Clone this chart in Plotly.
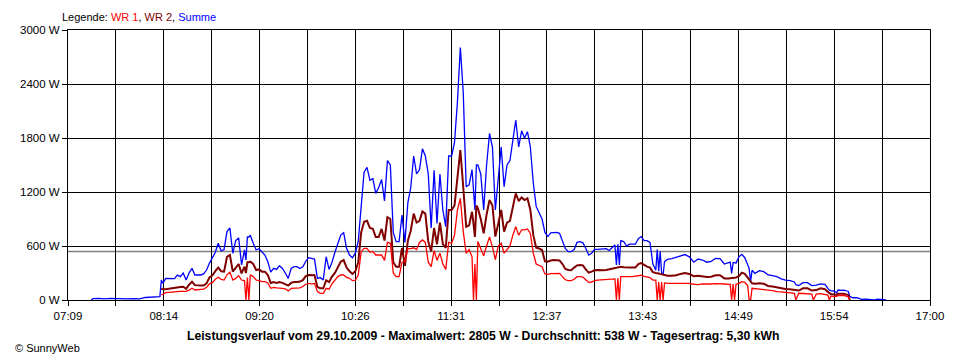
import plotly.graph_objects as go
import pandas as pd

DATE = "2009-10-29"

# Sample times (HH:MM)
TIMES = [
    "07:25", "07:26", "07:30", "07:34", "07:38", "07:42", "07:46", "07:50", "07:54", "07:58",
    "08:02", "08:06", "08:09", "08:12",
    "08:13", "08:14", "08:16", "08:18", "08:20", "08:22", "08:24", "08:26", "08:28", "08:30",
    "08:32", "08:34", "08:36", "08:38", "08:40", "08:42", "08:44", "08:46", "08:48", "08:50",
    "08:52", "08:54", "08:56", "08:58", "09:00", "09:02", "09:04", "09:06", "09:08", "09:10",
    "09:11", "09:12", "09:13", "09:14", "09:16", "09:18", "09:20", "09:22", "09:24", "09:26",
    "09:28", "09:30", "09:32", "09:34", "09:36", "09:38", "09:40", "09:42", "09:44", "09:46",
    "09:48", "09:50", "09:52", "09:54", "09:56", "09:58", "10:00", "10:02", "10:04", "10:06",
    "10:08", "10:10", "10:12", "10:14", "10:16", "10:18", "10:20", "10:22", "10:24", "10:26",
    "10:28", "10:30", "10:32", "10:34", "10:36", "10:38", "10:40", "10:42", "10:44", "10:46",
    "10:48", "10:50", "10:52", "10:54", "10:56", "10:58", "11:00", "11:02", "11:04", "11:06",
    "11:08", "11:10", "11:12", "11:14", "11:16", "11:18", "11:20", "11:22", "11:24", "11:26",
    "11:28", "11:30", "11:32", "11:34", "11:36", "11:38", "11:40", "11:42", "11:44", "11:46",
    "11:47", "11:48", "11:49", "11:50", "11:52", "11:54", "11:56", "11:58", "12:00", "12:02",
    "12:04", "12:06", "12:08", "12:10", "12:12", "12:14", "12:16", "12:18", "12:20", "12:22",
    "12:24", "12:26", "12:28", "12:30", "12:32", "12:34", "12:36", "12:38", "12:40", "12:42",
    "12:44", "12:46", "12:48", "12:50", "12:52", "12:54", "12:56", "12:58", "13:00", "13:02",
    "13:04", "13:06", "13:08", "13:10", "13:12", "13:14", "13:16", "13:18", "13:20", "13:22",
    "13:24", "13:25", "13:26", "13:27", "13:28", "13:30", "13:32", "13:34", "13:36", "13:38",
    "13:40", "13:42", "13:44", "13:46", "13:48", "13:50", "13:52", "13:53", "13:54", "13:55",
    "13:56", "13:57", "13:58", "14:00", "14:03", "14:06", "14:09", "14:12", "14:15", "14:18",
    "14:21", "14:24", "14:27", "14:30", "14:33", "14:36", "14:39", "14:42", "14:43", "14:44",
    "14:45", "14:46", "14:47", "14:49", "14:50", "14:51", "14:53", "14:55", "14:56", "14:57",
    "14:58", "15:00", "15:03", "15:06", "15:09", "15:12", "15:15", "15:18", "15:21", "15:24",
    "15:27", "15:28", "15:30", "15:33", "15:36", "15:39", "15:40", "15:42", "15:45", "15:48",
    "15:50", "15:51", "15:52", "15:54", "15:56", "15:57", "15:59", "16:01", "16:03", "16:04",
    "16:05", "16:07", "16:10", "16:13", "16:16", "16:19", "16:22", "16:24", "16:27", "16:30",
]

# Summe (blue), W
SUMME = [
    0, 15, 19, 12, 18, 15, 10, 12, 14, 12,
    28, 30, 37, 37,
    222, 185, 241, 241, 237, 237, 278, 260, 300, 222,
    300, 352, 278, 278, 278, 290, 333, 410, 463, 530,
    630, 545, 560, 760, 800, 519, 660, 690, 389, 556,
    444, 700, 700, 720, 630, 556, 570, 537, 500, 426,
    310, 352, 340, 380, 350, 300, 240, 350, 370, 370,
    350, 370, 430, 470, 463, 455, 241, 250, 222, 481,
    340, 420, 530, 620, 722, 748, 574, 500, 470, 520,
    650, 1037, 1420, 1474, 1330, 1350, 1185, 1250, 1340, 1100,
    1550, 1500, 750, 648, 648, 944, 640, 1080, 1250, 1600,
    1400, 1450, 1680, 1600, 1400, 800, 1440, 850, 1400, 1000,
    815, 1600, 1600, 1750, 2200, 2805, 2300, 1259, 1280, 1450,
    1150, 1000, 1500, 1500, 1400, 1000, 1500, 1850, 1700, 1000,
    1350, 1700, 1259, 1500, 1550, 1780, 2000, 1700, 1880, 1800,
    1870, 1700, 1300, 1040, 963, 900, 750, 705, 745, 752,
    752, 741, 650, 570, 537, 537, 560, 640, 648, 635,
    575, 500, 520, 563, 563, 565, 560, 570, 550, 585,
    611, 389, 620, 389, 659, 650, 600, 620, 620, 620,
    680, 705, 660, 660, 640, 400, 330, 560, 320, 540,
    300, 278, 426, 452, 460, 474, 490, 505, 480, 420,
    455, 444, 420, 430, 463, 460, 400, 410, 420, 296,
    415, 415, 410, 480, 495, 507, 470, 380, 352, 204,
    330, 296, 326, 315, 278, 270, 260, 235, 220, 215,
    200, 170, 160, 193, 193, 160, 160, 165, 180, 175,
    130, 110, 104, 100, 80, 111, 108, 110, 100, 95,
    40, 25, 25, 8, 10, 5, 0, 8, 8, 0,
]

# WR 2 (dark red), W
WR2 = [
    None, None, None, None, None, None, None, None, None, None,
    None, None, None, None,
    130, 119, 119, 125, 135, 141, 141, 145, 148, 125,
    170, 204, 165, 160, 160, 160, 185, 250, 275, 320,
    360, 320, 315, 480, 500, 315, 360, 400, 296, 370,
    300, 420, 420, 426, 400, 333, 340, 315, 315, 278,
    190, 200, 190, 200, 190, 175, 160, 190, 200, 200,
    205, 220, 265, 278, 278, 275, 145, 130, 130, 220,
    200, 260, 300, 370, 426, 444, 360, 320, 290, 320,
    420, 750, 870, 880, 800, 790, 700, 700, 790, 660,
    920, 900, 420, 370, 370, 580, 380, 660, 770, 960,
    860, 880, 985, 960, 650, 540, 800, 620, 860, 620,
    580, 1000, 1000, 1050, 1350, 1667, 1250, 815, 830, 980,
    850, 700, 1050, 1020, 900, 740, 950, 1111, 1050, 704,
    850, 1000, 760, 860, 880, 1050, 1185, 1100, 1140, 1110,
    1130, 1000, 720, 580, 572, 555, 430, 425, 440, 444,
    444, 440, 400, 345, 333, 330, 360, 385, 389, 385,
    340, 304, 315, 330, 333, 330, 330, 333, 340, 348,
    350, 360, 360, 365, 370, 365, 360, 360, 360, 360,
    400, 410, 390, 370, 360, 310, 300, 300, 295, 290,
    285, 280, 280, 270, 270, 275, 290, 300, 290, 265,
    270, 259, 255, 259, 275, 275, 240, 240, 245, 245,
    245, 245, 250, 265, 290, 304, 290, 250, 222, 200,
    185, 180, 185, 180, 156, 150, 140, 130, 122, 120,
    115, 110, 105, 130, 130, 105, 105, 110, 130, 120,
    90, 80, 67, 60, 55, 70, 70, 70, 60, 55,
    0, None, None, None, None, None, None, None, None, None,
]

# WR 1 (red), W
WR1 = [
    None, None, None, None, None, None, None, None, None, None,
    None, None, None, None,
    56, 65, 81, 85, 90, 93, 93, 96, 96, 96,
    110, 130, 111, 115, 115, 120, 141, 180, 193, 230,
    252, 230, 222, 280, 310, 222, 240, 270, 222, 215,
    0, 250, 0, 278, 260, 222, 215, 204, 204, 190,
    130, 140, 135, 135, 130, 125, 100, 130, 130, 130,
    135, 150, 175, 185, 180, 185, 93, 74, 74, 130,
    120, 180, 220, 260, 278, 278, 250, 241, 215, 220,
    278, 537, 574, 574, 530, 540, 500, 500, 500, 440,
    640, 630, 300, 259, 259, 420, 430, 570, 570, 580,
    560, 640, 667, 640, 420, 370, 550, 440, 520, 400,
    340, 640, 630, 720, 1000, 1130, 760, 519, 560, 480,
    0, 400, 0, 650, 560, 490, 600, 700, 590, 450,
    600, 630, 520, 560, 600, 720, 815, 720, 780, 780,
    790, 740, 520, 400, 389, 370, 290, 285, 294, 296,
    296, 296, 260, 225, 215, 215, 230, 259, 259, 255,
    225, 196, 200, 215, 220, 222, 225, 225, 228, 230,
    235, 0, 245, 0, 259, 259, 255, 259, 259, 262,
    270, 275, 262, 255, 250, 222, 220, 0, 200, 0,
    200, 0, 190, 185, 185, 185, 190, 190, 185, 175,
    170, 178, 175, 178, 183, 183, 178, 174, 176, 0,
    176, 0, 176, 185, 195, 204, 195, 160, 0, 0,
    130, 125, 125, 115, 110, 105, 93, 90, 85, 80,
    75, 0, 75, 72, 70, 65, 0, 65, 70, 65,
    55, 0, 45, 37, 40, 50, 50, 50, 40, 35,
    0, None, None, None, None, None, None, None, None, None,
]

AVERAGE_W = 538
Y_TICKS = [0, 600, 1200, 1800, 2400, 3000]
Y_TICK_LABELS = ["0 W", "600 W", "1200 W", "1800 W", "2400 W", "3000 W"]
X_START, X_END = "07:09", "17:00"
X_TICK_LABELS = ["07:09", "", "08:14", "", "09:20", "", "10:26", "", "11:31", "",
                 "12:37", "", "13:43", "", "14:49", "", "15:54", "", "17:00"]

TITLE = ("Leistungsverlauf vom 29.10.2009 - Maximalwert: 2805 W - "
         "Durchschnitt: 538 W - Tagesertrag: 5,30 kWh")

assert len(TIMES) == len(SUMME) == len(WR1) == len(WR2)

x = [f"{DATE} {t}" for t in TIMES]
start = f"{DATE} {X_START}"
end = f"{DATE} {X_END}"
tickvals = [ts.strftime("%Y-%m-%d %H:%M:%S")
            for ts in pd.date_range(start, end, periods=len(X_TICK_LABELS))]

FONT = "Liberation Sans, Arial, sans-serif"

# page body has an 8px margin in the browser -> compensate
OFF = 8
PLOT_L, PLOT_R, PLOT_T, PLOT_B = 60, 930, 30, 300   # target screen pixels
W, H = 960, 360
PW, PH = PLOT_R - PLOT_L, PLOT_B - PLOT_T


def px(xs):
    return (xs - PLOT_L) / PW


def py(ys):
    return (PLOT_B - ys) / PH


fig = go.Figure()
fig.add_trace(go.Scatter(x=x, y=SUMME, mode="lines", name="Summe",
                         line=dict(color="#0000ff", width=1.3), connectgaps=False))
fig.add_trace(go.Scatter(x=x, y=WR2, mode="lines", name="WR 2",
                         line=dict(color="#800000", width=2), connectgaps=False))
fig.add_trace(go.Scatter(x=x, y=WR1, mode="lines", name="WR 1",
                         line=dict(color="#ff0000", width=1.3), connectgaps=False))

fig.add_shape(type="line", xref="paper", x0=0, x1=1, yref="y",
              y0=AVERAGE_W, y1=AVERAGE_W, layer="between",
              line=dict(color="#808080", width=1.5))

fig.update_layout(
    width=W, height=H,
    margin=dict(l=PLOT_L - OFF, r=W - PLOT_R + OFF, t=PLOT_T - OFF, b=H - PLOT_B + OFF),
    paper_bgcolor="white", plot_bgcolor="white",
    showlegend=False,
    font=dict(family=FONT, size=11, color="black"),
    xaxis=dict(
        type="date", range=[start, end],
        tickmode="array", tickvals=tickvals, ticktext=X_TICK_LABELS,
        showgrid=True, gridcolor="black", gridwidth=1,
        ticks="outside", ticklen=5, tickcolor="black", tickwidth=1,
        showline=True, linecolor="black", linewidth=1, mirror=True,
        zeroline=False, tickfont=dict(size=11.5, color="black"),
    ),
    yaxis=dict(
        range=[0, 3000],
        tickmode="array", tickvals=Y_TICKS, ticktext=Y_TICK_LABELS,
        showgrid=True, gridcolor="black", gridwidth=1,
        ticks="outside", ticklen=5, tickcolor="black", tickwidth=1,
        showline=True, linecolor="black", linewidth=1, mirror=True,
        zeroline=False, tickfont=dict(size=11.5, color="black"),
    ),
)

fig.add_annotation(
    xref="paper", yref="paper", x=px(52), y=py(17),
    xanchor="left", yanchor="middle", showarrow=False,
    text=("Legende: <span style='color:#ff0000'>WR 1</span>, "
          "<span style='color:#800000'>WR 2</span>, "
          "<span style='color:#0000ff'>Summe</span>"),
    font=dict(family=FONT, size=11, color="black"),
)
fig.add_annotation(
    xref="paper", yref="paper", x=px(479), y=py(336),
    xanchor="center", yanchor="middle", showarrow=False,
    text=f"<b>{TITLE}</b>",
    font=dict(family=FONT, size=12.2, color="black"),
)
fig.add_annotation(
    xref="paper", yref="paper", x=px(4), y=py(348),
    xanchor="left", yanchor="middle", showarrow=False,
    text="© SunnyWeb",
    font=dict(family=FONT, size=11, color="black"),
)

fig.write_html("out.html")
